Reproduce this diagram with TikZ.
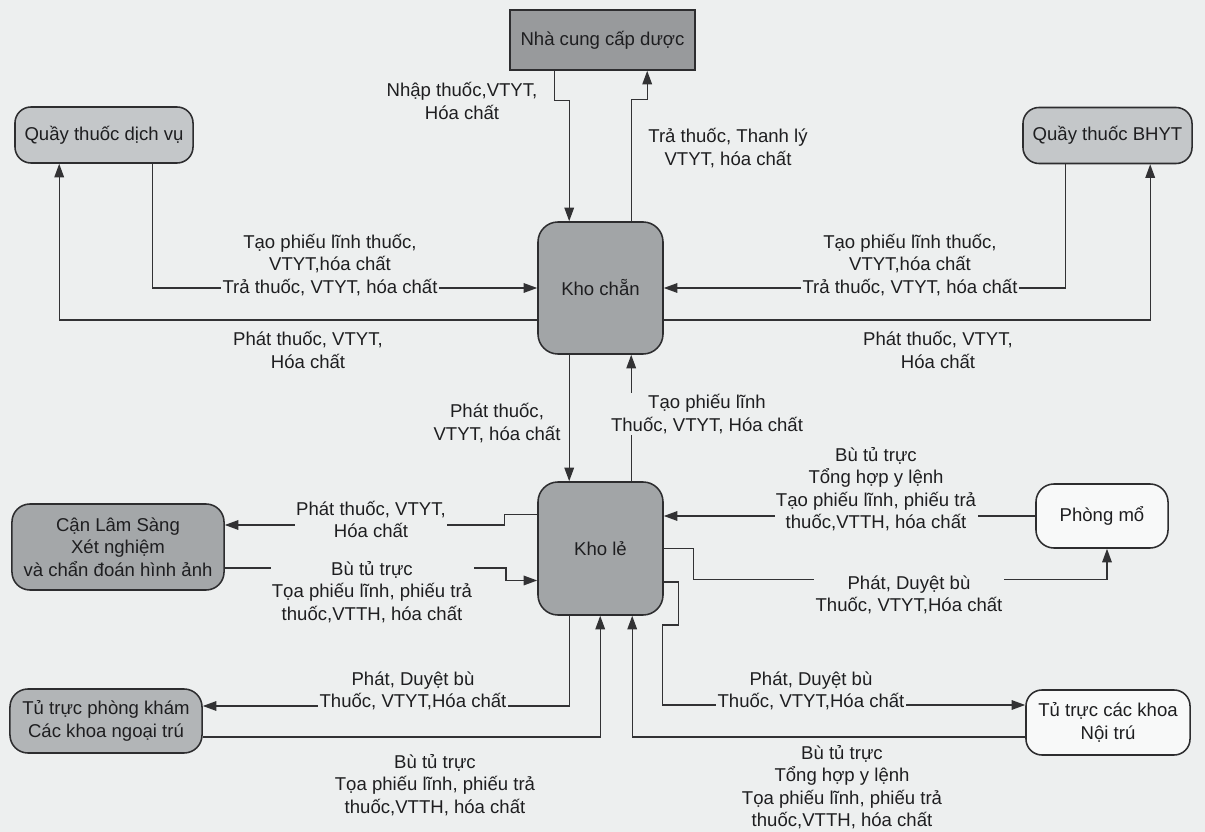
\documentclass[tikz,border=0pt]{standalone}
\usepackage{fontspec}
\setmainfont{Liberation Sans}
\usetikzlibrary{arrows.meta,calc}

\definecolor{bgc}{RGB}{237,239,239}
\definecolor{edgec}{RGB}{45,45,47}
\definecolor{linec}{RGB}{50,50,52}
\definecolor{txtc}{RGB}{30,30,32}
\definecolor{nccc}{RGB}{152,154,156}
\definecolor{khoc}{RGB}{162,165,167}
\definecolor{clsc}{RGB}{164,167,169}
\definecolor{quayc}{RGB}{196,199,201}
\definecolor{ttpkc}{RGB}{178,181,183}
\definecolor{whitec}{RGB}{248,249,249}

\begin{document}
\begin{tikzpicture}[
  x=0.025cm,y=-0.025cm,
  every node/.style={font=\fontsize{13.2}{16}\selectfont, text=txtc},
  supplier/.style={draw=edgec, line width=1.1pt, fill=nccc, minimum width=4.625cm, minimum height=1.5cm, inner sep=2pt},
  counter/.style={draw=edgec, line width=1.1pt, fill=quayc, rounded corners=0.4cm, minimum height=1.4cm, inner sep=2pt},
  store/.style={draw=edgec, line width=1.1pt, fill=khoc, rounded corners=0.5cm, minimum width=3.125cm, minimum height=3.3cm, inner sep=2pt},
  unit/.style={draw=edgec, line width=1.1pt, rounded corners=0.45cm, align=center, inner sep=2pt},
  lbl/.style={align=center, inner sep=1pt},
  lblm/.style={align=center, inner sep=1pt, fill=bgc},
  arr/.style={-{Triangle[length=3.4mm,width=2.4mm]}, draw=linec, line width=1pt}
]
\useasboundingbox (0,0) rectangle (1205,832);
\fill[bgc] (0,0) rectangle (1205,832);

% boxes
\node[supplier] (ncc) at (602.5,40) {Nhà cung cấp dược};
\node[counter, minimum width=4.45cm] (qdv) at (104,135) {Quầy thuốc dịch vụ};
\node[counter, minimum width=4.225cm] (qbhyt) at (1107.5,135.5) {Quầy thuốc BHYT};
\node[store] (khochan) at (600.5,288) {Kho chẵn};
\node[store, minimum height=3.325cm] (khole) at (600.5,548.5) {Kho lẻ};
\node[unit, fill=clsc, minimum width=5.3cm, minimum height=2.15cm] (cls) at (118,547) {Cận Lâm Sàng\\Xét nghiệm\\và chẩn đoán hình ảnh};
\node[unit, fill=whitec, minimum width=3.3cm, minimum height=1.6cm] (pmo) at (1102,516) {Phòng mổ};
\node[unit, fill=ttpkc, minimum width=4.8cm, minimum height=1.6cm] (ttpk) at (106,721) {Tủ trực phòng khám\\Các khoa ngoại trú};
\node[unit, fill=whitec, minimum width=4.1cm, minimum height=1.625cm, rounded corners=0.4cm] (ttck) at (1108,722.5) {Tủ trực các khoa\\Nội trú};

% kho chan
\draw[arr] ($(ncc.south west)+(45,0)$) -- ++(0,30) -| ($(khochan.north west)+(32,0)$);
\draw[arr] ($(khochan.north west)+(94,0)$) -- ++(0,-122) -| ($(ncc.south west)+(138,0)$);
\draw[arr] ($(qdv.south west)+(138,0)$) |- (khochan.west);
\draw[arr] ($(khochan.west)+(0,32)$) -| ($(qdv.south west)+(45,0)$);
\draw[arr] ($(qbhyt.south west)+(43,0)$) |- (khochan.east);
\draw[arr] ($(khochan.east)+(0,32)$) -| ($(qbhyt.south west)+(128,0)$);
\draw[arr] ($(khochan.south west)+(32,0)$) -- ($(khole.north west)+(32,0)$);
\draw[arr] ($(khole.north west)+(94,0)$) -- ($(khochan.south west)+(94,0)$);

% kho le
\draw[arr] ($(khole.west)+(0,-34)$) -- ++(-33,0) |- ($(cls.east)+(0,-22)$);
\draw[arr] ($(cls.east)+(0,21)$) -- ++(281,0) |- ($(khole.west)+(0,32)$);
\draw[arr] (pmo.west) -- (pmo.west -| khole.east);
\draw[arr] (khole.east) -- ++(30,0) -- ++(0,31) -| ($(pmo.south)+(5,0)$);
\draw[arr] ($(khole.east)+(0,33.5)$) -- ++(15,0) -- ++(0,43) -- ++(-16,0) |- ($(ttck.west)+(0,-17.5)$);
\draw[arr] ($(ttck.west)+(0,14.5)$) -| ($(khole.south west)+(95,0)$);
\draw[arr] ($(khole.south west)+(32,0)$) |- ($(ttpk.east)+(0,-15)$);
\draw[arr] ($(ttpk.east)+(0,16)$) -| ($(khole.south west)+(63,0)$);

% labels
\node[lbl] (l1) at (462,101) {Nhập thuốc,VTYT,\\Hóa chất};
\node[lbl] (l2) at (728,148) {Trả thuốc, Thanh lý\\VTYT, hóa chất};
\node[lblm] (l3) at (330,265) {Tạo phiếu lĩnh thuốc,\\VTYT,hóa chất\\Trả thuốc, VTYT, hóa chất};
\node[lblm] (l4) at (910,265) {Tạo phiếu lĩnh thuốc,\\VTYT,hóa chất\\Trả thuốc, VTYT, hóa chất};
\node[lbl] (l5) at (308,350) {Phát thuốc, VTYT,\\Hóa chất};
\node[lbl] (l6) at (938,350) {Phát thuốc, VTYT,\\Hóa chất};
\node[lbl] (l7) at (497,423) {Phát thuốc,\\VTYT, hóa chất};
\node[lblm] (l8) at (707,414) {Tạo phiếu lĩnh\\Thuốc, VTYT, Hóa chất};
\node[lblm] (l9) at (371,519.5) {Phát thuốc, VTYT,\\Hóa chất};
\node[lblm] (l10) at (372,592) {Bù tủ trực\\Tọa phiếu lĩnh, phiếu trả\\thuốc,VTTH, hóa chất};
\node[lblm] (l11) at (876,489) {Bù tủ trực\\Tổng hợp y lệnh\\Tạo phiếu lĩnh, phiếu trả\\thuốc,VTTH, hóa chất};
\node[lblm] (l12) at (909,595) {Phát, Duyệt bù\\Thuốc, VTYT,Hóa chất};
\node[lblm] (l13) at (413,691) {Phát, Duyệt bù\\Thuốc, VTYT,Hóa chất};
\node[lblm] (l14) at (811,691) {Phát, Duyệt bù\\Thuốc, VTYT,Hóa chất};
\node[lbl] (l15) at (435,785) {Bù tủ trực\\Tọa phiếu lĩnh, phiếu trả\\thuốc,VTTH, hóa chất};
\node[lbl] (l16) at (842,787) {Bù tủ trực\\Tổng hợp y lệnh\\Tọa phiếu lĩnh, phiếu trả\\thuốc,VTTH, hóa chất};
\end{tikzpicture}
\end{document}
